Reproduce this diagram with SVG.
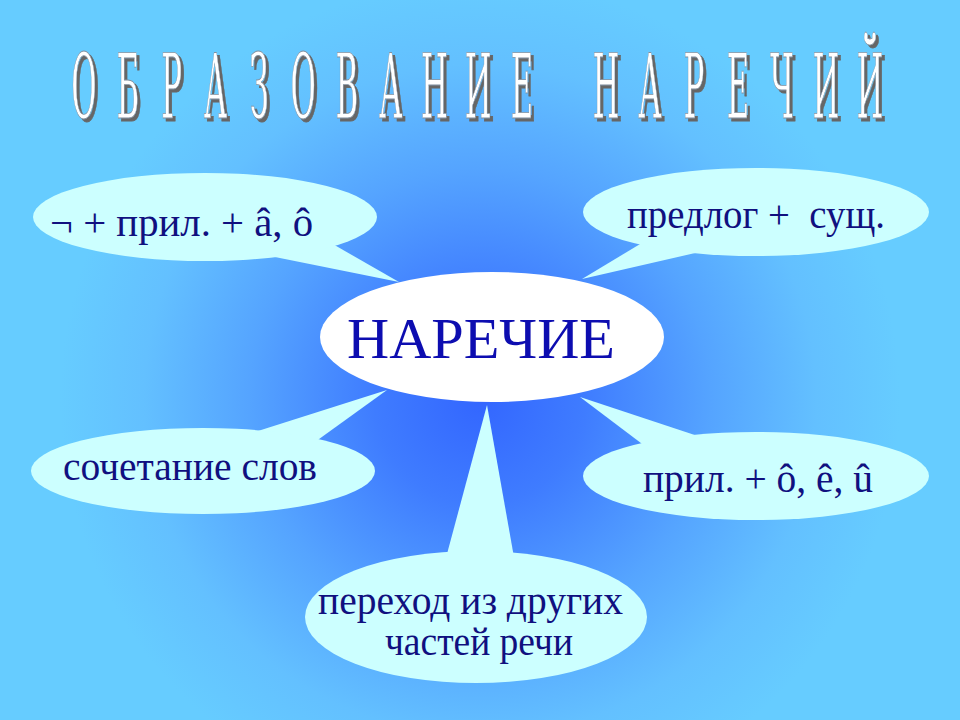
<svg xmlns="http://www.w3.org/2000/svg" width="960" height="720" viewBox="0 0 960 720">
  <defs>
    <radialGradient id="bg" gradientUnits="userSpaceOnUse" cx="480" cy="400" r="420">
      <stop offset="0" stop-color="#3366ff"/>
      <stop offset="0.25" stop-color="#3f7cff"/>
      <stop offset="0.55" stop-color="#55a4ff"/>
      <stop offset="0.8" stop-color="#63c0ff"/>
      <stop offset="1" stop-color="#66ccff"/>
    </radialGradient>
    <filter id="shadow" x="-5%" y="-5%" width="115%" height="120%">
      <feOffset in="SourceAlpha" dx="3" dy="3" result="off"/>
      <feFlood flood-color="#666666"/>
      <feComposite in2="off" operator="in" result="sh"/>
      <feMerge>
        <feMergeNode in="sh"/>
        <feMergeNode in="SourceGraphic"/>
      </feMerge>
    </filter>
    <style>
      .bubble { fill: #ccffff; }
      .center { fill: #ffffff; }
      .serif { font-family: "Liberation Serif", Tinos, "Noto Serif", "DejaVu Serif", FreeSerif, "Nimbus Roman", "Times New Roman", Times, serif; }
      .lbl { font-size: 40px; fill: #10107f; white-space: pre; }
      .main { font-size: 56px; fill: #0d0db0; }
      .title { font-family: "DejaVu Serif", "Liberation Serif", serif; font-size: 44px; text-anchor: middle; fill: #ffffff; stroke: #8090a0; stroke-width: 0.4; }
    </style>
  </defs>

  <rect x="0" y="0" width="960" height="720" fill="url(#bg)"/>

  <g id="title" filter="url(#shadow)">
    <g transform="scale(0.7 2.06)">
      <text class="title" y="57.3" x="120 182.6 245.1 307.7 370.3 432.9 495.4 558 620.6 683.1 745.7 865.7 928.6 991.4 1054.3 1117.1 1180 1242.9">ОБРАЗОВАНИЕНАРЕЧИЙ</text>
    </g>
  </g>

  <g id="connectors">
    <polygon class="bubble" points="399,282 310,231 260,254"/>
    <polygon class="bubble" points="582,279 680,220 730,245"/>
    <polygon class="bubble" points="387,390 230,440 290,460"/>
    <polygon class="bubble" points="580,397 740,450 670,465"/>
    <polygon class="bubble" points="487,405 440,580 518,580"/>
  </g>

  <g id="node-top-left">
    <ellipse class="bubble" cx="205" cy="217" rx="172" ry="44"/>
    <text class="lbl serif" x="50" y="236" textLength="263" lengthAdjust="spacingAndGlyphs">¬ + прил. + â, ô</text>
  </g>

  <g id="node-top-right">
    <ellipse class="bubble" cx="756" cy="212" rx="173" ry="44"/>
    <text class="lbl serif" x="627" y="228" textLength="258" lengthAdjust="spacingAndGlyphs">предлог +  сущ.</text>
  </g>

  <g id="node-bottom-left">
    <ellipse class="bubble" cx="203" cy="471" rx="172" ry="43"/>
    <text class="lbl serif" x="63" y="480" textLength="254" lengthAdjust="spacingAndGlyphs">сочетание слов</text>
  </g>

  <g id="node-bottom-right">
    <ellipse class="bubble" cx="756" cy="476" rx="173" ry="44"/>
    <text class="lbl serif" x="643" y="492" textLength="230" lengthAdjust="spacingAndGlyphs">прил. + ô, ê, û</text>
  </g>

  <g id="node-bottom">
    <ellipse class="bubble" cx="476" cy="617" rx="171" ry="66"/>
    <text class="lbl serif" font-size="36" x="318" y="614" textLength="305" lengthAdjust="spacingAndGlyphs">переход из других</text>
    <text class="lbl serif" font-size="36" x="385" y="655" textLength="188" lengthAdjust="spacingAndGlyphs">частей речи</text>
  </g>

  <g id="node-center">
    <ellipse class="center" cx="492" cy="337" rx="172" ry="65"/>
    <text class="main serif" x="347" y="358" textLength="268" lengthAdjust="spacingAndGlyphs">НАРЕЧИЕ</text>
  </g>
</svg>
